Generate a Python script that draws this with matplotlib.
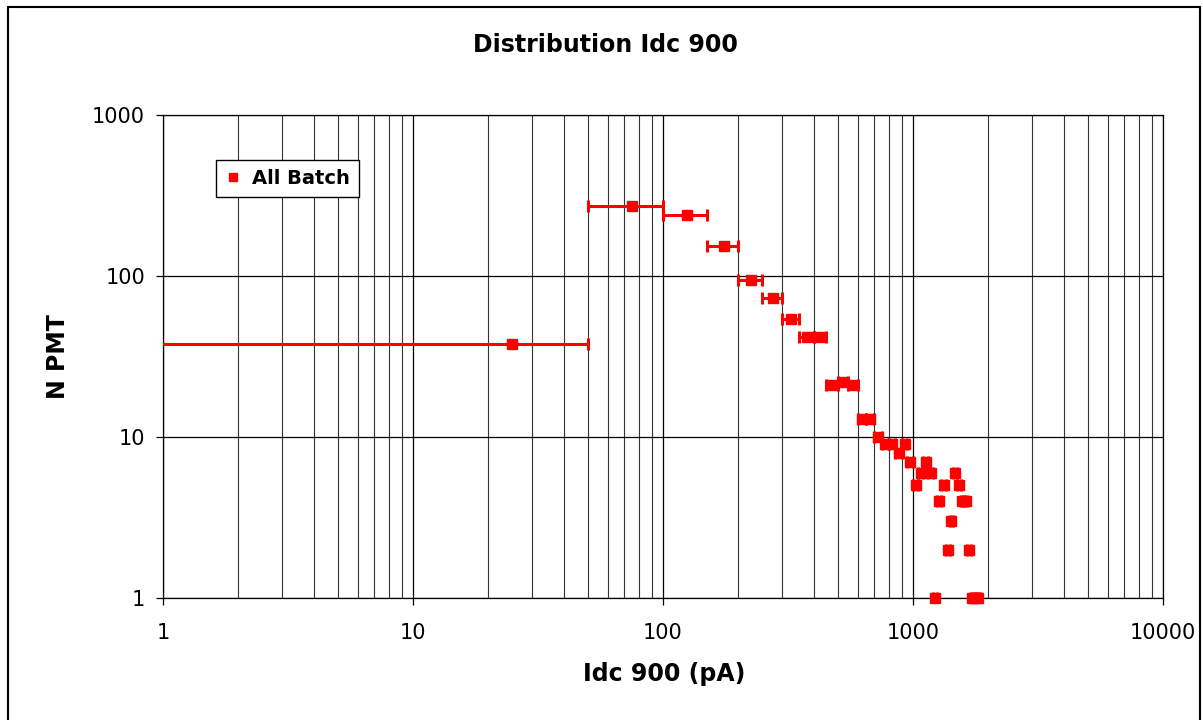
import numpy as np
import matplotlib.pyplot as plt
from matplotlib.patches import Rectangle
from matplotlib.ticker import LogLocator, NullLocator, FixedLocator

plt.rcParams['font.family'] = 'DejaVu Sans'

# bin centres (pA), 50 pA wide bins
idc = [25, 75, 125, 175, 225, 275, 325, 375, 425, 475, 525, 575, 625, 675,
       725, 775, 825, 875, 925, 975, 1025, 1075, 1125, 1175, 1225, 1275,
       1325, 1375, 1425, 1475, 1525, 1575, 1625, 1675, 1725, 1775, 1825]
npmt = [38, 274, 238, 154, 94, 73, 54, 42, 42, 21, 22, 21, 13, 13,
        10, 9, 9, 8, 9, 7, 5, 6, 7, 6, 1, 4,
        5, 2, 3, 6, 5, 4, 4, 2, 1, 1, 1]
half_bin = 25
xticks = [1, 10, 100, 1000, 10000]
yticks = [1, 10, 100, 1000]

W, H = 1203, 720
fig = plt.figure(figsize=(W / 100, H / 100), dpi=100)
ax = fig.add_axes([163 / W, 1 - 598 / H, 1000 / W, 483 / H])

ax.set_xscale('log')
ax.set_yscale('log')
ax.set_xlim(1, 10000)
ax.set_ylim(1, 1000)

ax.errorbar(idc, npmt, xerr=half_bin, fmt='none', ecolor='red',
            elinewidth=2.2, capsize=4, capthick=2.2, zorder=3)
ax.plot(idc, npmt, 's', color='red', ms=7.5, label='All Batch', zorder=4,
        clip_on=False)

ax.xaxis.set_major_locator(FixedLocator(xticks))
ax.xaxis.set_minor_locator(LogLocator(base=10, subs=np.arange(2, 10)))
ax.yaxis.set_major_locator(FixedLocator(yticks))
ax.yaxis.set_minor_locator(NullLocator())
ax.set_xticklabels([str(v) for v in xticks])
ax.set_yticklabels([str(v) for v in yticks])

ax.grid(which='major', axis='both', color='black', lw=0.9)
ax.grid(which='minor', axis='x', color='#333333', lw=0.8)
ax.set_axisbelow(True)

ax.tick_params(which='major', direction='out', length=5, width=0.9,
               labelsize=15, color='black')
ax.tick_params(which='minor', length=0)
ax.tick_params(axis='x', pad=13)
ax.tick_params(axis='y', pad=8)
for s in ax.spines.values():
    s.set_color('black')
    s.set_linewidth(0.9)

leg = ax.legend(loc='upper left', bbox_to_anchor=((216 - 163) / 1000, (598 - 160) / 483),
                borderaxespad=0, fancybox=False, edgecolor='black', framealpha=1,
                handlelength=0.8, handletextpad=0.6, borderpad=0.45,
                prop={'size': 14, 'weight': 'bold'}, markerscale=0.8)
leg.get_frame().set_linewidth(1.0)

fig.text(605 / W, 1 - 45 / H, 'Distribution Idc 900', ha='center', va='center',
         fontsize=17, fontweight='bold')
fig.text(664 / W, 1 - 674 / H, 'Idc 900 (pA)', ha='center', va='center',
         fontsize=17, fontweight='bold')
fig.text(58 / W, 1 - 357 / H, 'N PMT', ha='center', va='center', rotation=90,
         fontsize=17, fontweight='bold')

# outer chart frame
fig.add_artist(Rectangle((8 / W, -0.05), (1200 - 8) / W, 1.05 - 7 / H,
                         transform=fig.transFigure, fill=False, lw=1.5, ec='black'))

fig.savefig('out.png', dpi=100)
